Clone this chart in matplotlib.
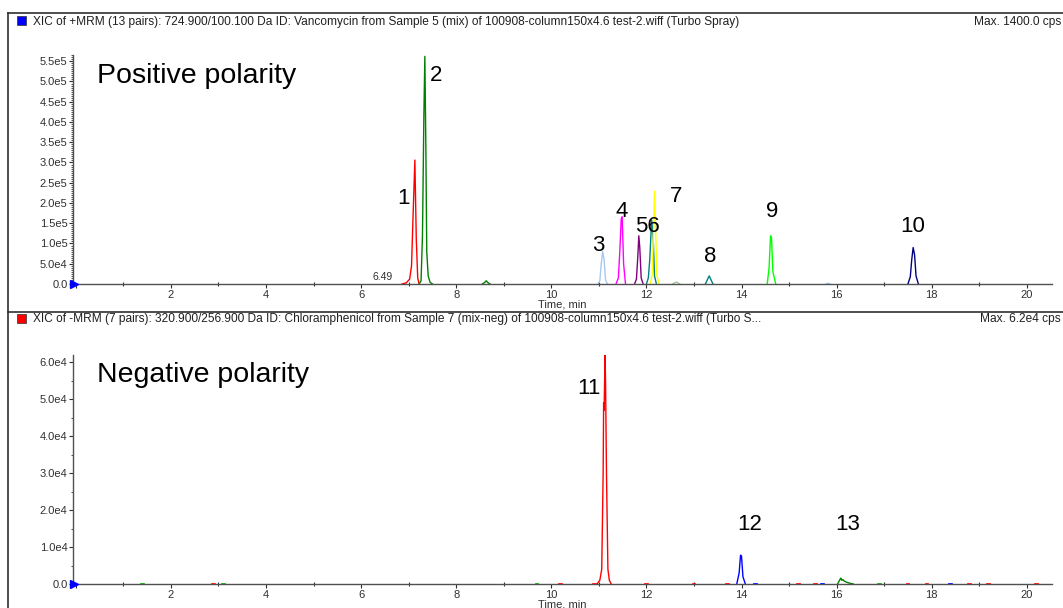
import matplotlib.pyplot as plt
from matplotlib.ticker import MultipleLocator, FuncFormatter
from matplotlib.lines import Line2D
from matplotlib.patches import Rectangle

plt.rcParams['font.family'] = ['Liberation Sans', 'DejaVu Sans']

# ---- positive polarity traces (time in min, intensity in cps) ----
p1_t = [6.86, 6.95, 7.02, 7.06, 7.09, 7.13, 7.16, 7.19, 7.22]
p1_y = [0, 3e3, 1.2e4, 4.5e4, 1.6e5, 3.06e5, 1.1e5, 1.5e4, 0]
p2_t = [7.22, 7.26, 7.29, 7.32, 7.34, 7.36, 7.38, 7.41, 7.45, 7.50]
p2_y = [0, 8e3, 1.2e5, 4.2e5, 5.62e5, 3.5e5, 8e4, 2e4, 4e3, 0]
p2b_t = [8.55, 8.60, 8.63, 8.66, 8.71]
p2b_y = [0, 4e3, 8e3, 4e3, 0]
p3_t = [10.98, 11.02, 11.05, 11.08, 11.11, 11.14, 11.18]
p3_y = [0, 8e3, 5e4, 8e4, 6e4, 1e4, 0]
p4_t = [11.36, 11.41, 11.44, 11.47, 11.49, 11.52, 11.56]
p4_y = [0, 1.5e4, 8e4, 1.6e5, 1.66e5, 5e4, 0]
p5_t = [11.75, 11.79, 11.82, 11.84, 11.86, 11.89, 11.93]
p5_y = [0, 1.2e4, 7e4, 1.19e5, 9e4, 1.5e4, 0]
p6_t = [12.00, 12.04, 12.07, 12.11, 12.14, 12.17, 12.21]
p6_y = [0, 1.5e4, 6e4, 1.58e5, 1.2e5, 2e4, 0]
p7_t = [12.08, 12.12, 12.15, 12.17, 12.19, 12.22, 12.27]
p7_y = [0, 2e4, 1.3e5, 2.29e5, 1.5e5, 2e4, 0]
p7b_t = [12.55, 12.60, 12.63, 12.66, 12.70]
p7b_y = [0, 3e3, 5e3, 3e3, 0]
p8_t = [13.24, 13.28, 13.32, 13.36, 13.40]
p8_y = [0, 1e4, 2.0e4, 1e4, 0]
p9_t = [14.54, 14.58, 14.61, 14.63, 14.66, 14.72]
p9_y = [0, 4e4, 1.19e5, 1.15e5, 3e4, 0]
p9b_t = [15.78, 15.82, 15.86]
p9b_y = [0, 2e3, 0]
p10_t = [17.50, 17.55, 17.58, 17.61, 17.64, 17.67, 17.72]
p10_y = [0, 1.8e4, 6e4, 9.0e4, 7.2e4, 2e4, 0]

pos_traces = [
    (p1_t, p1_y, '#ff0000'), (p2_t, p2_y, '#008000'), (p2b_t, p2b_y, '#008000'),
    (p3_t, p3_y, '#a6caf0'), (p4_t, p4_y, '#ff00ff'), (p5_t, p5_y, '#800080'),
    (p6_t, p6_y, '#008080'), (p7_t, p7_y, '#ffff00'), (p7b_t, p7b_y, '#a0c0a0'),
    (p8_t, p8_y, '#008080'), (p9_t, p9_y, '#00ff00'), (p9b_t, p9b_y, '#a6caf0'),
    (p10_t, p10_y, '#000080'),
]
pos_labels = ['1', '2', '3', '4', '56', '7', '8', '9', '10']
pos_label_t = [6.90, 7.57, 10.98, 11.47, 12.03, 12.62, 13.34, 14.64, 17.59]
pos_label_y = [2.10e5, 5.14e5, 0.94e5, 1.80e5, 1.41e5, 2.17e5, 0.69e5, 1.80e5, 1.43e5]

# ---- negative polarity traces ----
p11_t = [10.96, 11.02, 11.06, 11.09, 11.10, 11.11, 11.13, 11.14, 11.16, 11.19, 11.22, 11.26]
p11_y = [0, 1e3, 4e3, 3e4, 4.9e4, 4.7e4, 6.2e4, 5.5e4, 3e4, 4e3, 1e3, 0]
p12_t = [13.90, 13.95, 13.98, 14.00, 14.03, 14.08]
p12_y = [0, 3e3, 7.8e3, 7.5e3, 2e3, 0]
p13_t = [16.02, 16.07, 16.09, 16.11, 16.13, 16.16, 16.19, 16.23, 16.28, 16.35]
p13_y = [0, 1.2e3, 1.6e3, 1.0e3, 1.2e3, 0.8e3, 0.6e3, 0.4e3, 0.2e3, 0]
neg_traces = [(p11_t, p11_y, '#ff0000'), (p12_t, p12_y, '#0000ff'), (p13_t, p13_y, '#008000')]
neg_labels = ['11', '12', '13']
neg_label_t = [10.79, 14.18, 16.24]
neg_label_y = [5.30e4, 1.62e4, 1.62e4]

# baseline noise specks in negative trace
noise_red = [2.9, 10.2, 10.9, 12.0, 13.0, 13.7, 15.2, 15.55, 17.5, 17.9, 18.8, 19.2, 20.2]
noise_blue = [14.3, 15.7, 18.4]
noise_green = [1.4, 3.1, 9.7, 16.9]

header_top = ("XIC of +MRM (13 pairs): 724.900/100.100 Da ID: Vancomycin from Sample 5 (mix) "
              "of 100908-column150x4.6 test-2.wiff (Turbo Spray)")
header_bot = ("XIC of -MRM (7 pairs): 320.900/256.900 Da ID: Chloramphenicol from Sample 7 (mix-neg) "
              "of 100908-column150x4.6 test-2.wiff (Turbo S...")

W, H = 1063, 608
fig = plt.figure(figsize=(W / 100, H / 100), dpi=100)


def fx(px):
    return px / W


def fy(py):
    return 1 - py / H


def sci(v, pos):
    if v == 0:
        return '0.0'
    s = f"{v:.1e}"
    m, e = s.split('e')
    return f"{m}e{int(e)}"


def style_axes(ax, ymax, ymajor):
    ax.set_xlim(-0.06, 20.53)
    ax.set_ylim(0, ymax)
    for s in ['top', 'right']:
        ax.spines[s].set_visible(False)
    for s in ['left', 'bottom']:
        ax.spines[s].set_color('#505050')
        ax.spines[s].set_linewidth(1.0)
    ax.xaxis.set_major_locator(MultipleLocator(2))
    ax.xaxis.set_minor_locator(MultipleLocator(1))
    ax.yaxis.set_major_locator(MultipleLocator(ymajor))
    ax.yaxis.set_minor_locator(MultipleLocator(5000))
    ax.yaxis.set_major_formatter(FuncFormatter(sci))
    ax.xaxis.set_major_formatter(FuncFormatter(lambda v, p: '' if v == 0 else f"{v:g}"))
    ax.tick_params(axis='both', which='major', labelsize=8, colors='#303030', length=3, width=0.8, pad=1)
    ax.tick_params(axis='y', which='minor', length=1.5, width=0.6, color='#303030')
    ax.tick_params(axis='x', which='minor', direction='inout', length=3, width=0.8, color='#303030')
    ax.set_xlabel('Time, min', fontsize=8, color='#303030', labelpad=0)
    ax.plot([-0.04], [0], marker='>', color='#0000ff', markersize=6, clip_on=False, zorder=5)


ax1 = fig.add_axes([fx(73), fy(284), fx(1052 - 73), (284 - 55) / H])
style_axes(ax1, 5.654e5, 50000)
for t, y, c in pos_traces:
    ax1.plot(t, y, color=c, lw=1.0)
for lab, t, y in zip(pos_labels, pos_label_t, pos_label_y):
    ax1.text(t, y, lab, fontsize=16, ha='center', va='center')
ax1.text(0.44, 5.14e5, 'Positive polarity', fontsize=20.5, ha='left', va='center')
ax1.text(6.46, 1.7e4, '6.49', fontsize=7.5, ha='center', va='center', color='#303030')

ax2 = fig.add_axes([fx(73), fy(584), fx(1052 - 73), (584 - 355) / H])
style_axes(ax2, 6.197e4, 10000)
for t, y, c in neg_traces:
    ax2.plot(t, y, color=c, lw=1.0)
for ts, c in [(noise_red, '#ff0000'), (noise_blue, '#0000ff'), (noise_green, '#00a000')]:
    for t in ts:
        ax2.plot([t - 0.03, t + 0.03], [0, 0], color=c, lw=1.2, zorder=4)
for lab, t, y in zip(neg_labels, neg_label_t, neg_label_y):
    ax2.text(t, y, lab, fontsize=16, ha='center', va='center')
ax2.text(0.44, 5.66e4, 'Negative polarity', fontsize=20.5, ha='left', va='center')

# frame lines and headers
for py in [13, 312]:
    fig.add_artist(Line2D([fx(8), 1], [fy(py), fy(py)], color='#303030', lw=1.2))
fig.add_artist(Line2D([fx(8), fx(8)], [0, fy(13)], color='#303030', lw=1.2))
for py, col, txt, mx in [(21, '#0000ff', header_top, 'Max. 1400.0 cps'),
                         (319, '#ff0000', header_bot, 'Max. 6.2e4 cps')]:
    fig.add_artist(Rectangle((fx(17), fy(py + 4)), fx(9), 9 / H, facecolor=col,
                             edgecolor='#303030', lw=0.5))
    fig.text(fx(33), fy(py + 0.5), txt, fontsize=8.6, va='center', ha='left', color='#202020')
    fig.text(fx(1061), fy(py + 0.5), mx, fontsize=8.6, va='center', ha='right', color='#202020')

plt.savefig('out.png', dpi=100)
